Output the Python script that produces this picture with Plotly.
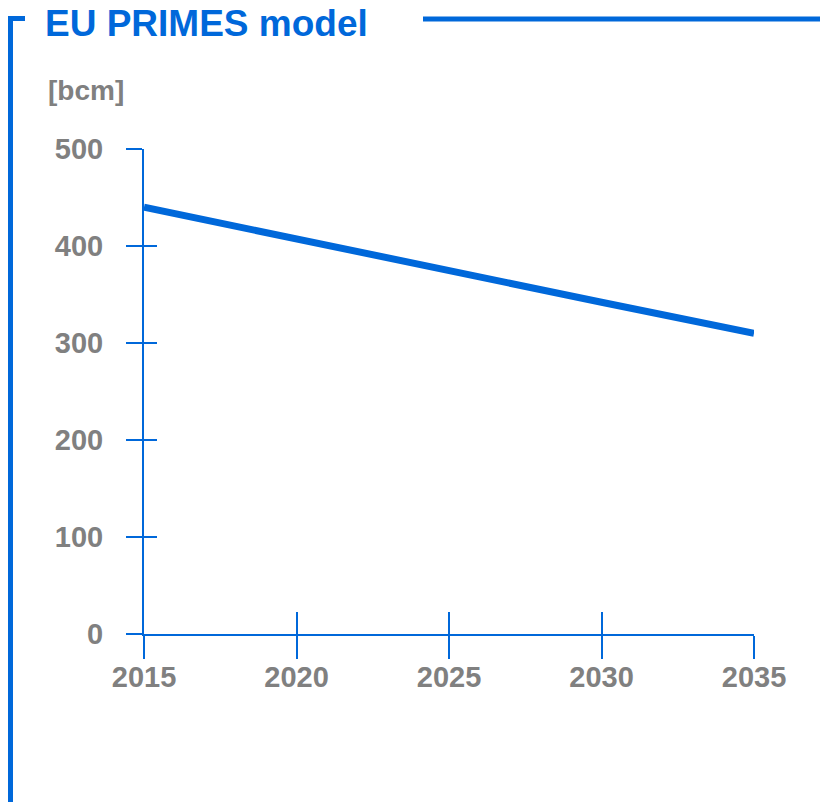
import plotly.graph_objects as go

years = [2015, 2020, 2025, 2030, 2035]
demand_bcm = [440, 407, 374, 342, 310]
y_ticks = [0, 100, 200, 300, 400, 500]
x_ticks = [2015, 2020, 2025, 2030, 2035]

BLUE = "#0068DA"
GRAY = "#808080"
FONT = "Liberation Sans, Arial, sans-serif"

OFF = 8  # page body margin
W, H = 828, 802
PW, PH = 610, 485
L, T = 144 - OFF, 149 - OFF
R, B = W - L - PW, H - T - PH


def px(x):
    return (x - OFF - L) / PW


def py(y):
    return (T + PH - (y - OFF)) / PH


tickfont = dict(family=FONT, size=29, color=GRAY, weight="bold")

fig = go.Figure()
fig.add_trace(go.Scatter(x=years, y=demand_bcm, mode="lines",
                         line=dict(color=BLUE, width=7), showlegend=False,
                         hoverinfo="skip"))
fig.add_trace(go.Scatter(x=[years[0]], y=[demand_bcm[0]], xaxis="x2", yaxis="y2",
                         mode="markers", marker=dict(opacity=0), showlegend=False,
                         hoverinfo="skip"))

axis_common = dict(showgrid=False, zeroline=False)
fig.update_layout(
    width=W, height=H,
    margin=dict(l=L, r=R, t=T, b=B, autoexpand=False),
    paper_bgcolor="white", plot_bgcolor="white",
    font=dict(family=FONT, color=GRAY, size=28),
    xaxis=dict(range=[2015, 2035], tickvals=x_ticks, ticks="outside", ticklen=23,
               tickwidth=2, tickcolor=BLUE, showline=True, linecolor=BLUE, linewidth=2,
               showticklabels=False, **axis_common),
    yaxis=dict(range=[0, 500], tickvals=y_ticks, ticks="outside", ticklen=16,
               tickwidth=2, tickcolor=BLUE, showline=True, linecolor=BLUE, linewidth=2,
               tickfont=tickfont, ticklabelstandoff=17, **axis_common),
    xaxis2=dict(range=[2015, 2035], tickvals=x_ticks, ticks="inside", ticklen=22,
                tickwidth=2, tickcolor=BLUE, overlaying="x", side="bottom",
                tickfont=tickfont, ticklabelstandoff=23, **axis_common),
    yaxis2=dict(range=[0, 500], tickvals=y_ticks, ticks="inside", ticklen=13,
                tickwidth=2, tickcolor=BLUE, showticklabels=False, overlaying="y",
                side="left", **axis_common),
    shapes=[
        dict(type="line", xref="paper", yref="paper", x0=px(423), x1=px(840),
             y0=py(19), y1=py(19), line=dict(color=BLUE, width=5)),
        dict(type="path", xref="paper", yref="paper",
             path=f"M {px(25)} {py(18.5)} L {px(10.5)} {py(18.5)} L {px(10.5)} {py(820)}",
             line=dict(color=BLUE, width=5)),
    ],
    annotations=[
        dict(text="<b>EU PRIMES model</b>", xref="paper", yref="paper",
             x=px(43), y=py(23.5), xanchor="left", yanchor="middle", showarrow=False,
             font=dict(family=FONT, size=37, color=BLUE)),
        dict(text="<b>[bcm]</b>", xref="paper", yref="paper",
             x=px(46), y=py(90), xanchor="left", yanchor="middle", showarrow=False,
             font=dict(family=FONT, size=28, color=GRAY)),
    ],
)

fig.write_html("out.html")
